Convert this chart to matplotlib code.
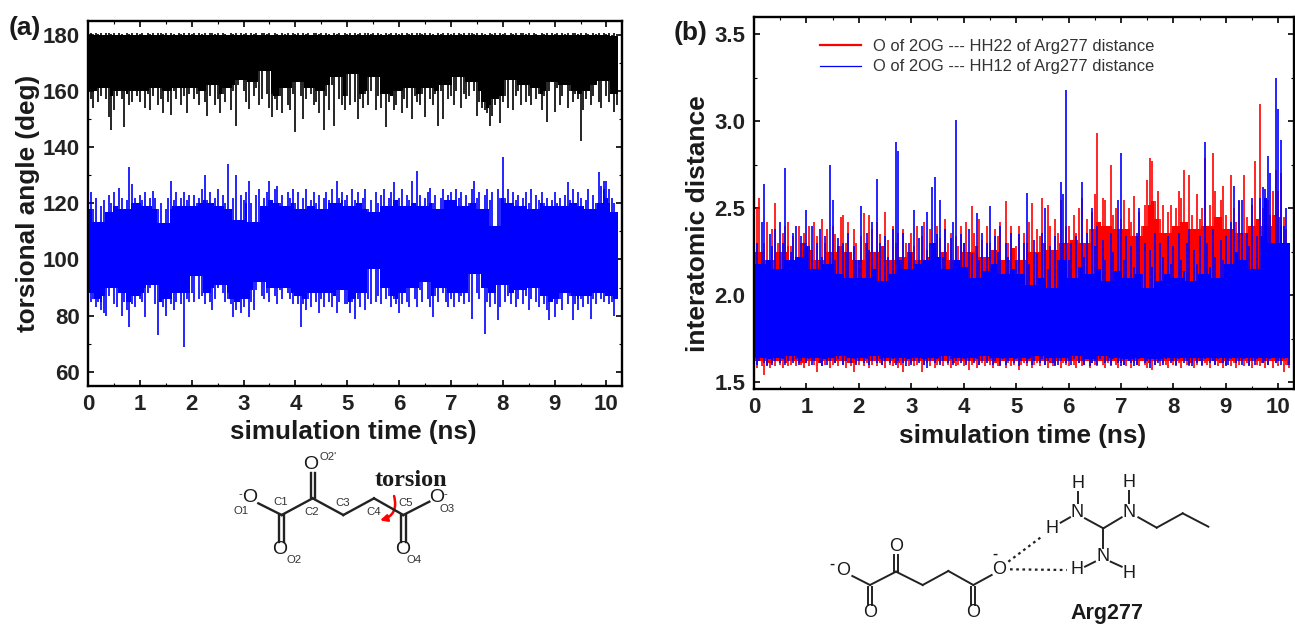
import numpy as np
import matplotlib
matplotlib.use('Agg')
import matplotlib.pyplot as plt
from matplotlib.patches import FancyArrowPatch
from matplotlib.ticker import MultipleLocator

plt.rcParams['font.family'] = ['Liberation Sans', 'DejaVu Sans']

# one row = 1 ns, one value every 0.05 ns
black_top = [180.3, 180.6, 179.9, 180.4, 180.2, 180.5, 180.0, 180.4, 180.6, 180.1,
             180.4, 179.8, 180.5, 180.3, 180.0, 180.6, 180.2, 180.4, 179.9, 180.5] * 10 + [
             180.3, 180.5, 180.0, 180.4, 179.5]
black_low = [160, 157, 154, 160, 156, 158, 161, 157, 150.5, 146, 153, 158, 160, 157, 147, 159, 155, 156, 160, 158,
             156, 160, 154, 159, 153, 158, 161, 155, 157, 152, 160, 156, 151.5, 160, 157, 161, 155, 158, 152, 159,
             161, 157, 159, 155, 160, 156, 151, 158, 162, 155, 157, 152, 159, 156, 161, 153, 160, 147.5, 162, 164,
             160, 156, 153.5, 163, 158, 161, 155, 157, 167, 159, 154, 150.5, 157, 153, 158, 152, 161, 155, 153, 159,
             145.5, 163, 158, 150, 157, 161, 159, 155, 156, 152, 160, 146, 158, 153, 162, 147.5, 165, 157, 155, 153,
             158, 155, 166, 156, 150, 157, 154, 159, 155, 160, 165, 153, 158, 154, 159, 147, 156, 158, 153, 155,
             160, 152, 157, 154, 161, 150, 158, 156, 155, 159, 150.5, 161, 157, 155, 159, 147.4, 160, 150, 162, 157,
             158, 155, 160, 165, 154, 159, 157, 158, 163, 160, 151, 156, 154, 153, 152, 147.4, 151, 155, 157, 148.6,
             156, 158, 154, 164, 153, 158, 160, 155, 162, 156, 158, 155, 161, 157, 159, 153, 158, 149, 160, 163,
             152.5, 161, 155, 158, 162, 154, 160, 156, 159, 157, 142, 153, 157, 160, 155, 158, 162, 156, 154, 163.5,
             158, 156, 159, 152.5, 155]
blue_high = [120, 124, 118, 122, 113.5, 119, 121, 117, 123, 120, 124, 119, 125.5, 122, 118, 121, 132.8, 127, 122, 120,
             123, 121, 124, 119, 122, 124.5, 122, 118, 120, 113, 118, 122, 128, 121, 124, 119, 122, 124, 121, 123,
             119, 123, 120, 122, 125, 130, 121, 124, 120, 122, 125, 119, 123, 120, 134, 118, 122, 130, 114, 123,
             121, 124, 128, 120, 113.5, 123, 125, 119, 122, 124, 128, 121, 125, 126, 120, 123, 119, 124, 122, 125,
             120, 124, 118, 122, 125, 119, 121, 124, 120, 123, 118, 122, 124, 121, 125, 120, 128, 122, 124, 121,
             123, 119, 125, 121, 124, 120, 122, 125, 118, 121, 117, 124, 120, 123, 125, 119, 122, 124, 127.5, 121,
             122, 125, 119, 123, 121, 128, 120, 131.4, 123, 119, 122, 124, 125.5, 120, 123, 118, 122, 125, 121, 123,
             124, 121, 125, 122, 124, 119, 123, 120, 125, 128, 122, 124, 118, 123, 125, 121, 124, 112, 125, 122,
             136.3, 122, 125, 120, 124, 121, 123, 119, 122, 124, 120, 125, 118, 123, 121, 124, 120, 122, 119, 121,
             124, 120, 122, 119, 123, 127.5, 121, 125, 120, 124, 122, 119, 121, 125, 118, 123, 120, 131, 126, 128,
             128, 125, 122, 120, 117]
blue_low = [88, 85, 86, 83, 85, 82, 81, 80, 87, 90, 84, 83, 88, 80, 85, 82, 76, 84, 83, 87,
            86, 85, 79.6, 88, 90, 91, 84, 73, 85, 83, 80, 86, 84, 82, 85, 88, 84, 68.8, 86, 85,
            88, 85, 94, 86, 87, 84, 88, 85, 82, 86, 90, 91, 88, 85, 86, 84, 79.5, 82, 85, 81,
            83, 86, 79.5, 85, 82, 89, 92, 87, 86, 88, 85, 90, 87, 84, 89, 86, 90, 88, 86, 84,
            87, 84, 76, 84, 82, 86, 83, 88, 85, 81, 86, 83, 88, 85, 83, 87, 81, 85, 89, 84,
            84, 81, 85, 79, 86, 83, 88, 82, 86, 84, 96.6, 85, 87, 84, 90, 86, 87, 83, 86, 84,
            81, 84, 88, 85, 83, 90, 86, 83, 89, 85, 92, 86, 83, 79.6, 87, 85, 90, 88, 85, 83,
            86, 83, 88, 85, 87, 84, 88, 85, 79, 95, 88, 86, 90, 73.6, 85, 83, 88, 84, 78.5, 83,
            91, 85, 87, 84, 88, 83, 86, 89, 84, 87, 82, 86, 90, 85, 83, 87, 84, 82, 78.5, 85,
            79.5, 84, 86, 82, 88, 84, 87, 78.5, 84, 82, 86, 83, 87, 84, 79, 86, 84, 88, 86, 85,
            87, 84, 85, 80, 86]

hh22_high = [2.40, 2.50, 2.56, 2.25, 2.30, 2.42, 2.20, 2.38, 2.53, 2.30, 2.25, 2.36, 2.40, 2.42, 2.28, 2.34, 2.20, 2.40, 2.30, 2.36,
             2.30, 2.40, 2.26, 2.42, 2.34, 2.20, 2.44, 2.30, 2.38, 2.25, 2.40, 2.35, 2.28, 2.45, 2.46, 2.30, 2.42, 2.25, 2.38, 2.30,
             2.20, 2.34, 2.47, 2.30, 2.46, 2.38, 2.25, 2.42, 2.35, 2.28, 2.48, 2.32, 2.20, 2.40, 2.30, 2.36, 2.22, 2.38, 2.30, 2.25,
             2.36, 2.28, 2.40, 2.20, 2.34, 2.42, 2.26, 2.38, 2.30, 2.22, 2.40, 2.33, 2.25, 2.44, 2.30, 2.36, 2.20, 2.34, 2.28, 2.40,
             2.30, 2.42, 2.25, 2.51, 2.36, 2.28, 2.44, 2.32, 2.22, 2.40, 2.30, 2.26, 2.38, 2.34, 2.42, 2.20, 2.54, 2.30, 2.40, 2.27,
             2.28, 2.40, 2.20, 2.36, 2.30, 2.42, 2.53, 2.25, 2.38, 2.34, 2.56, 2.30, 2.52, 2.40, 2.26, 2.44, 2.36, 2.55, 2.30, 2.40,
             2.40, 2.32, 2.46, 2.36, 2.50, 2.56, 2.30, 2.44, 2.38, 2.48, 2.58, 2.93, 2.42, 2.56, 2.55, 2.40, 2.75, 2.46, 2.50, 2.38,
             2.44, 2.55, 2.38, 2.50, 2.42, 2.57, 2.34, 2.48, 2.40, 2.52, 2.66, 2.79, 2.77, 2.54, 2.60, 2.44, 2.52, 2.36, 2.48, 2.52,
             2.40, 2.50, 2.60, 2.56, 2.72, 2.42, 2.69, 2.46, 2.38, 2.58, 2.44, 2.50, 2.79, 2.40, 2.52, 2.82, 2.60, 2.45, 2.55, 2.63,
             2.46, 2.38, 2.69, 2.50, 2.42, 2.54, 2.36, 2.69, 2.45, 2.40, 2.52, 2.77, 2.44, 3.10, 2.50, 2.40, 2.55, 2.46, 2.60, 2.72,
             2.60, 2.70, 2.45, 2.38, 2.30]
hh22_low = [1.60, 1.58, 1.62, 1.59, 1.54, 1.60, 1.58, 1.61, 1.59, 1.62, 1.60, 1.58, 1.61, 1.59, 1.60, 1.62, 1.59, 1.61, 1.60, 1.58,
            1.61, 1.59, 1.62, 1.60, 1.56, 1.61, 1.59, 1.60, 1.62, 1.58, 1.60, 1.61, 1.59, 1.62, 1.60, 1.58, 1.61, 1.59, 1.56, 1.61,
            1.60, 1.62, 1.59, 1.61, 1.58, 1.60, 1.62, 1.59, 1.61, 1.60, 1.58, 1.62, 1.60, 1.59, 1.61, 1.58, 1.60, 1.56, 1.62, 1.59,
            1.61, 1.59, 1.60, 1.62, 1.56, 1.60, 1.61, 1.59, 1.62, 1.58, 1.60, 1.61, 1.59, 1.62, 1.60, 1.58, 1.61, 1.59, 1.60, 1.62,
            1.59, 1.61, 1.57, 1.60, 1.62, 1.58, 1.60, 1.61, 1.59, 1.62, 1.60, 1.58, 1.61, 1.59, 1.60, 1.62, 1.58, 1.61, 1.59, 1.60,
            1.62, 1.57, 1.60, 1.61, 1.59, 1.62, 1.58, 1.60, 1.61, 1.59, 1.62, 1.60, 1.58, 1.61, 1.59, 1.60, 1.62, 1.58, 1.61, 1.60,
            1.59, 1.62, 1.60, 1.58, 1.61, 1.59, 1.60, 1.62, 1.58, 1.61, 1.60, 1.59, 1.62, 1.60, 1.58, 1.61, 1.59, 1.62, 1.60, 1.58,
            1.61, 1.60, 1.59, 1.62, 1.58, 1.61, 1.60, 1.59, 1.62, 1.60, 1.58, 1.61, 1.57, 1.60, 1.62, 1.59, 1.61, 1.60, 1.58, 1.62,
            1.60, 1.59, 1.61, 1.58, 1.62, 1.60, 1.59, 1.61, 1.58, 1.60, 1.62, 1.59, 1.61, 1.60, 1.58, 1.62, 1.60, 1.59, 1.61, 1.58,
            1.60, 1.62, 1.59, 1.61, 1.58, 1.60, 1.62, 1.59, 1.61, 1.60, 1.58, 1.62, 1.60, 1.59, 1.61, 1.58, 1.60, 1.62, 1.58, 1.61,
            1.59, 1.62, 1.56, 1.60, 1.58]
hh12_high = [2.70, 2.30, 2.18, 2.42, 2.64, 2.20, 2.35, 2.28, 2.38, 2.15, 2.42, 2.30, 2.73, 2.20, 2.25, 2.36, 2.40, 2.22, 2.34, 2.30,
             2.49, 2.28, 2.40, 2.15, 2.30, 2.38, 2.22, 2.34, 2.18, 2.75, 2.55, 2.20, 2.33, 2.12, 2.30, 2.25, 2.36, 2.10, 2.28, 2.20,
             2.20, 2.51, 2.10, 2.36, 2.26, 2.42, 2.15, 2.67, 2.30, 2.08, 2.34, 2.22, 2.12, 2.38, 2.88, 2.83, 2.20, 2.36, 2.15, 2.30,
             2.25, 2.49, 2.18, 2.33, 2.40, 2.20, 2.48, 2.30, 2.62, 2.68, 2.35, 2.55, 2.22, 2.38, 2.15, 2.33, 2.42, 3.01, 2.20, 2.35,
             2.30, 2.16, 2.38, 2.24, 2.10, 2.47, 2.20, 2.36, 2.14, 2.30, 2.51, 2.18, 2.34, 2.25, 2.40, 2.12, 2.30, 2.22, 2.36, 2.15,
             2.20, 2.35, 2.12, 2.30, 2.59, 2.18, 2.06, 2.32, 2.24, 2.10, 2.36, 2.50, 2.15, 2.28, 2.04, 2.34, 2.20, 2.65, 2.58, 3.18,
             2.20, 2.30, 2.10, 2.34, 2.16, 2.65, 2.22, 2.36, 2.12, 2.50, 2.28, 2.40, 2.15, 2.32, 2.20, 2.08, 2.36, 2.25, 2.14, 2.55,
             2.82, 2.20, 2.34, 2.10, 2.28, 2.16, 2.36, 2.50, 2.12, 2.30, 2.04, 2.26, 2.16, 2.36, 2.08, 2.30, 2.22, 2.12, 2.34, 2.18,
             2.28, 2.10, 2.36, 2.20, 2.14, 2.30, 2.38, 2.08, 2.26, 2.18, 2.34, 2.12, 2.88, 2.30, 2.16, 2.38, 2.22, 2.10, 2.32, 2.20,
             2.34, 2.18, 2.42, 2.63, 2.25, 2.55, 2.55, 2.20, 2.36, 2.28, 2.56, 2.15, 2.34, 2.56, 2.62, 2.61, 2.80, 2.70, 2.30, 3.25,
             3.07, 2.89, 2.40, 2.50, 2.30]
hh12_low = [1.63, 1.60, 1.62, 1.64, 1.61, 1.59, 1.63, 1.60, 1.62, 1.64, 1.61, 1.63, 1.60, 1.62, 1.65, 1.61, 1.63, 1.60, 1.62, 1.64,
            1.61, 1.63, 1.60, 1.62, 1.64, 1.61, 1.59, 1.63, 1.60, 1.62, 1.64, 1.61, 1.63, 1.65, 1.60, 1.62, 1.64, 1.61, 1.63, 1.60,
            1.62, 1.64, 1.61, 1.63, 1.60, 1.62, 1.65, 1.61, 1.63, 1.60, 1.62, 1.64, 1.61, 1.63, 1.60, 1.62, 1.64, 1.61, 1.59, 1.63,
            1.60, 1.62, 1.64, 1.61, 1.63, 1.60, 1.58, 1.62, 1.64, 1.61, 1.63, 1.60, 1.62, 1.65, 1.61, 1.63, 1.60, 1.62, 1.64, 1.61,
            1.63, 1.60, 1.62, 1.64, 1.61, 1.63, 1.60, 1.62, 1.65, 1.61, 1.63, 1.60, 1.62, 1.64, 1.59, 1.63, 1.60, 1.62, 1.64, 1.61,
            1.63, 1.59, 1.62, 1.64, 1.61, 1.63, 1.60, 1.62, 1.65, 1.61, 1.63, 1.60, 1.62, 1.64, 1.61, 1.59, 1.60, 1.62, 1.64, 1.61,
            1.62, 1.60, 1.63, 1.65, 1.61, 1.62, 1.60, 1.63, 1.59, 1.61, 1.62, 1.60, 1.63, 1.65, 1.61, 1.62, 1.60, 1.63, 1.64, 1.61,
            1.59, 1.60, 1.63, 1.62, 1.61, 1.59, 1.60, 1.63, 1.64, 1.61, 1.62, 1.58, 1.63, 1.60, 1.61, 1.62, 1.60, 1.63, 1.64, 1.61,
            1.62, 1.60, 1.63, 1.64, 1.61, 1.62, 1.60, 1.59, 1.64, 1.61, 1.62, 1.60, 1.63, 1.64, 1.61, 1.62, 1.60, 1.63, 1.64, 1.61,
            1.59, 1.60, 1.63, 1.64, 1.61, 1.62, 1.60, 1.63, 1.64, 1.59, 1.62, 1.60, 1.63, 1.64, 1.61, 1.62, 1.60, 1.63, 1.64, 1.61,
            1.62, 1.60, 1.63, 1.64, 1.60]

time_ticks = list(range(11))
angle_ticks = [60, 80, 100, 120, 140, 160, 180]
dist_ticks = [1.5, 2.0, 2.5, 3.0, 3.5]
legend_labels = ['O of 2OG --- HH22 of Arg277 distance', 'O of 2OG --- HH12 of Arg277 distance']

W, H = 1295, 624


def px_axes(fig, left, top, right, bottom, **kw):
    return fig.add_axes([left / W, 1 - bottom / H, (right - left) / W, (bottom - top) / H], **kw)


def draw_trace(ax, high, low, color, z):
    high = np.array(high, float)
    low = np.array(low, float)
    t = np.arange(len(high)) * 0.05
    # solid middle as bars (worst of 5 neighbours), then one line per sample for the spikes
    core_high = np.lib.stride_tricks.sliding_window_view(np.pad(high, 2, mode='edge'), 5).min(axis=1)
    core_low = np.lib.stride_tricks.sliding_window_view(np.pad(low, 2, mode='edge'), 5).max(axis=1)
    ax.bar(t, core_high - core_low, bottom=core_low, width=0.052, color=color, lw=0, antialiased=False, zorder=z)
    ax.vlines(t, low, high, color=color, lw=1.2, zorder=z)


def style_axes(ax, minor_y):
    ax.set_xlim(0, 10.3)
    ax.set_xticks(time_ticks)
    ax.xaxis.set_minor_locator(MultipleLocator(0.5))
    ax.yaxis.set_minor_locator(MultipleLocator(minor_y))
    ax.tick_params(which='major', direction='in', top=True, right=True, length=4.5, width=1.2,
                   labelsize=16, pad=6)
    ax.tick_params(which='minor', direction='in', top=True, right=True, length=2, width=0.8)
    for lab in ax.get_xticklabels() + ax.get_yticklabels():
        lab.set_fontweight('bold')
        lab.set_color('#222222')
    for s in ax.spines.values():
        s.set_linewidth(1.7)
        s.set_zorder(6)


fig = plt.figure(figsize=(W / 100, H / 100), dpi=100)

# panel a
ax1 = px_axes(fig, 88, 20.5, 622, 386)
draw_trace(ax1, black_top, black_low, 'black', 2)
draw_trace(ax1, blue_high, blue_low, '#0000ff', 3)
ax1.set_ylim(55, 185)
ax1.set_yticks(angle_ticks)
style_axes(ax1, 10)

# panel b
ax2 = px_axes(fig, 754, 17, 1294, 389)
draw_trace(ax2, hh22_high, hh22_low, '#ff0000', 2)
draw_trace(ax2, hh12_high, hh12_low, '#0000ff', 3)
ax2.set_ylim(1.46, 3.60)
ax2.set_yticks(dist_ticks)
ax2.set_yticklabels(['%.1f' % v for v in dist_ticks])
style_axes(ax2, 0.25)
h1, = ax2.plot([], [], color='#ff0000', lw=1.6)
h2, = ax2.plot([], [], color='#0000ff', lw=0.9)
ax2.legend([h1, h2], legend_labels, frameon=False, fontsize=11.9, labelcolor='#333333',
           loc='upper left', bbox_to_anchor=(815 / W, 1 - 34 / H), bbox_transform=fig.transFigure,
           borderaxespad=0, borderpad=0.3, handlelength=2.5, handletextpad=0.72, labelspacing=0.33)

# text and the two molecule sketches, in picture pixels
ov = fig.add_axes([0, 0, 1, 1], facecolor='none')
ov.set_xlim(0, W)
ov.set_ylim(H, 0)
ov.axis('off')


def label(x, y, s, size=15, weight='bold', rot=0, color='#1a1a1a', family=None, ha='center'):
    ov.text(x, y, s, fontsize=size, fontweight=weight, rotation=rot, color=color, ha=ha, va='center',
            family=family if family else ['Liberation Sans', 'DejaVu Sans'])


label(25, 28, '(a)', 19)
label(691, 33, '(b)', 19)
label(353, 432, 'simulation time (ns)', 18.7)
label(1023, 436, 'simulation time (ns)', 18.8)
label(28, 203, 'torsional angle (deg)', 18.8, rot=90)
label(698, 224, 'interatomic distance', 19, rot=90)

# 2-oxoglutarate, panel a, in crop pixels (x0=220, y0=445, 3x)
mol_a_bonds = [[115, 175, 185, 210], [185, 210, 278, 160], [278, 160, 370, 210], [370, 210, 462, 160],
               [462, 160, 550, 210], [550, 210, 628, 170], [178, 210, 178, 290], [192, 210, 192, 290],
               [272, 160, 272, 85], [285, 160, 285, 85], [543, 210, 543, 290], [557, 210, 557, 290]]
mol_a_atoms = [(90, 158, 'O'), (272, 58, 'O'), (178, 312, 'O'), (548, 312, 'O'), (650, 158, 'O')]
mol_a_small = [(62, 198, 'O1'), (325, 35, "O2'"), (222, 345, 'O2'), (583, 345, 'O4'), (680, 193, 'O3'),
               (182, 172, 'C1'), (275, 200, 'C2'), (367, 175, 'C3'), (460, 200, 'C4'), (558, 175, 'C5'),
               (60, 147, '-'), (675, 147, '-')]
for b in mol_a_bonds:
    ov.plot([220 + b[0] / 3, 220 + b[2] / 3], [445 + b[1] / 3, 445 + b[3] / 3], color='#222222', lw=1.7)
for x, y, s in mol_a_atoms:
    label(220 + x / 3, 445 + y / 3, s, 14, 'normal')
for x, y, s in mol_a_small:
    label(220 + x / 3, 445 + y / 3, s, 8.2, 'normal', color='#333333')
label(220 + 572 / 3, 445 + 105 / 3, 'torsion', 17.5, family='Liberation Serif')
ov.add_patch(FancyArrowPatch((220 + 520 / 3, 445 + 145 / 3), (220 + 472 / 3, 445 + 228 / 3),
                             connectionstyle='arc3,rad=-0.55', arrowstyle='-|>', mutation_scale=10,
                             color='#ff0000', lw=1.8))

# 2-oxoglutarate with Arg277, panel b, crop pixels (x0=820, y0=460, 3x)
mol_b_bonds = [[97, 348, 150, 375], [150, 375, 228, 335], [222, 335, 222, 285], [234, 335, 234, 285],
               [228, 335, 308, 375], [308, 375, 385, 333], [385, 333, 460, 375], [144, 380, 144, 435],
               [156, 380, 156, 435], [454, 380, 454, 435], [466, 380, 466, 435], [460, 375, 515, 345],
               [722, 188, 750, 172], [773, 95, 773, 130], [795, 175, 850, 205], [850, 205, 905, 172],
               [928, 92, 928, 130], [955, 172, 1010, 203], [1010, 203, 1088, 160], [1088, 160, 1165, 200],
               [850, 205, 850, 265], [872, 305, 905, 320], [795, 320, 825, 305]]
mol_b_dots = [[565, 305, 665, 230], [570, 328, 740, 330]]
mol_b_atoms = [(70, 332, 'O'), (228, 260, 'O'), (150, 458, 'O'), (460, 458, 'O'), (538, 330, 'O'),
               (695, 205, 'H'), (772, 157, 'N'), (775, 70, 'H'), (928, 157, 'N'), (928, 68, 'H'),
               (850, 290, 'N'), (928, 340, 'H'), (770, 330, 'H')]
mol_b_charges = [(35, 312), (525, 280)]
for b in mol_b_bonds:
    ov.plot([820 + b[0] / 3, 820 + b[2] / 3], [460 + b[1] / 3, 460 + b[3] / 3], color='#222222', lw=1.4)
for b in mol_b_dots:
    ov.plot([820 + b[0] / 3, 820 + b[2] / 3], [460 + b[1] / 3, 460 + b[3] / 3], color='#222222', lw=1.6,
            linestyle=(0, (1.2, 1.6)))
for x, y, s in mol_b_atoms:
    label(820 + x / 3, 460 + y / 3, s, 13, 'normal')
for x, y in mol_b_charges:
    label(820 + x / 3, 460 + y / 3, '-', 11)
label(820 + 860 / 3, 460 + 460 / 3, 'Arg277', 15.5)

plt.savefig('out.png', dpi=100)
